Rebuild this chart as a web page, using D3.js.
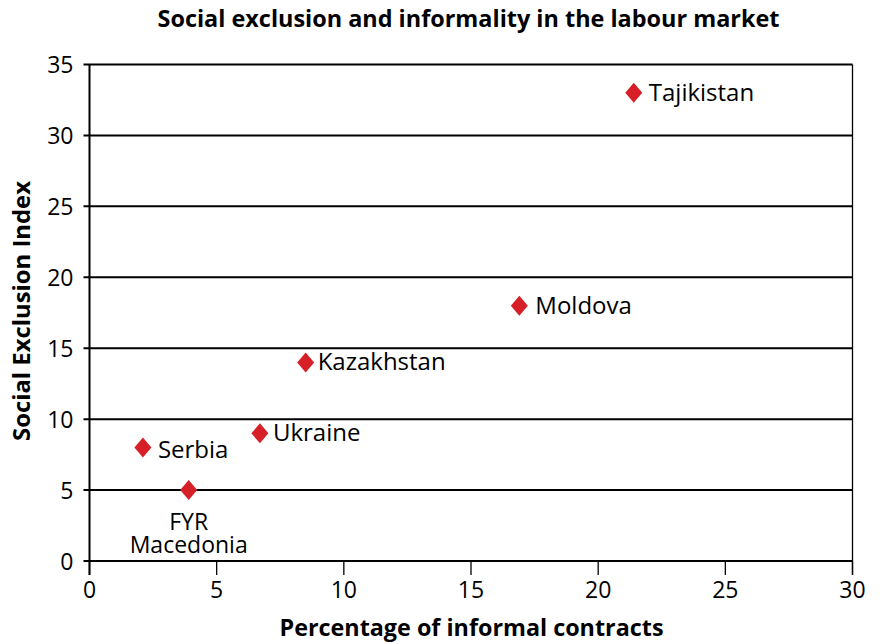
<!DOCTYPE html>
<html><head><meta charset="utf-8">
<script src="https://cdn.jsdelivr.net/npm/d3@7"></script>
<style>body{margin:0;background:#fff}svg{display:block}text{font-family:"Open Sans",sans-serif;fill:#000}</style>
</head><body><svg id="c" width="882" height="644"></svg>
<script>
const countries = ["Tajikistan","Moldova","Kazakhstan","Ukraine","Serbia","FYR Macedonia"];
const informal = [21.4, 16.9, 8.5, 6.7, 2.1, 3.9];
const exclusion = [33, 18, 14, 9, 8, 5];
const xTicks = [0,5,10,15,20,25,30];
const yTicks = [0,5,10,15,20,25,30,35];
const title = "Social exclusion and informality in the labour market";
const xTitle = "Percentage of informal contracts";
const yTitle = "Social Exclusion Index";

const svg = d3.select("#c");
const L=89.5, R=852.5, T=64.5, B=561;
const x = d3.scaleLinear().domain([0,30]).range([L,R]);
const y = d3.scaleLinear().domain([0,35]).range([B,T]);

// gridlines
svg.append("g").selectAll("line").data(yTicks).join("line")
  .attr("x1",L-6).attr("x2",R).attr("y1",d=>y(d)).attr("y2",d=>y(d))
  .attr("stroke","#000").attr("stroke-width",2);
// right border
svg.append("line").attr("x1",R).attr("x2",R).attr("y1",T).attr("y2",B+14).attr("stroke","#000").attr("stroke-width",1.3);
// left axis
svg.append("line").attr("x1",L).attr("x2",L).attr("y1",T).attr("y2",B+14).attr("stroke","#000").attr("stroke-width",2);
// x ticks
svg.append("g").selectAll("line").data(xTicks).join("line")
  .attr("x1",d=>x(d)).attr("x2",d=>x(d)).attr("y1",B).attr("y2",B+14)
  .attr("stroke","#000").attr("stroke-width",1.3);
// tick labels
svg.append("g").selectAll("text").data(yTicks).join("text")
  .attr("x",L-16).attr("y",d=>y(d)+8.5).attr("text-anchor","end")
  .style("font-size","23px").text(d=>d);
svg.append("g").selectAll("text").data(xTicks).join("text")
  .attr("x",d=>x(d)).attr("y",598).attr("text-anchor","middle")
  .style("font-size","23px").text(d=>d);

// titles
svg.append("text").attr("x",468.5).attr("y",27).attr("text-anchor","middle")
  .attr("textLength",622).attr("lengthAdjust","spacingAndGlyphs")
  .style("font-size","23px").style("font-weight","bold").text(title);
svg.append("text").attr("x",471.5).attr("y",636).attr("text-anchor","middle")
  .attr("textLength",384).attr("lengthAdjust","spacingAndGlyphs")
  .style("font-size","23px").style("font-weight","bold").text(xTitle);
svg.append("text").attr("transform","translate(30,311) rotate(-90)").attr("text-anchor","middle")
  .attr("textLength",260).attr("lengthAdjust","spacingAndGlyphs")
  .style("font-size","23px").style("font-weight","bold").text(yTitle);

// points
const diamond = {draw(ctx,size){const h=10,w=8.5;ctx.moveTo(0,-h);ctx.lineTo(w,0);ctx.lineTo(0,h);ctx.lineTo(-w,0);ctx.closePath();}};
const data = countries.map((c,i)=>({c,x:informal[i],y:exclusion[i]}));
svg.append("g").selectAll("path").data(data).join("path")
  .attr("transform",d=>`translate(${x(d.x)},${y(d.y)})`)
  .attr("d",d3.symbol(diamond)).attr("fill","#d71f27");

// labels
const lab = svg.append("g");
data.forEach(d=>{
  const px=x(d.x), py=y(d.y);
  if(d.c==="FYR Macedonia"){
    const t = lab.append("text").attr("x",px).attr("y",py+40).attr("text-anchor","middle").style("font-size","23px");
    t.append("tspan").attr("x",px).attr("dy",0).text("FYR");
    t.append("tspan").attr("x",px).attr("dy",23).text("Macedonia");
  } else {
    const dx = {Tajikistan:15,Moldova:16,Kazakhstan:12,Ukraine:13,Serbia:15}[d.c];
    const dy = {Tajikistan:8,Moldova:8,Kazakhstan:8,Ukraine:8,Serbia:10}[d.c];
    lab.append("text").attr("x",px+dx).attr("y",py+dy).style("font-size","24px").text(d.c);
  }
});
</script></body></html>
